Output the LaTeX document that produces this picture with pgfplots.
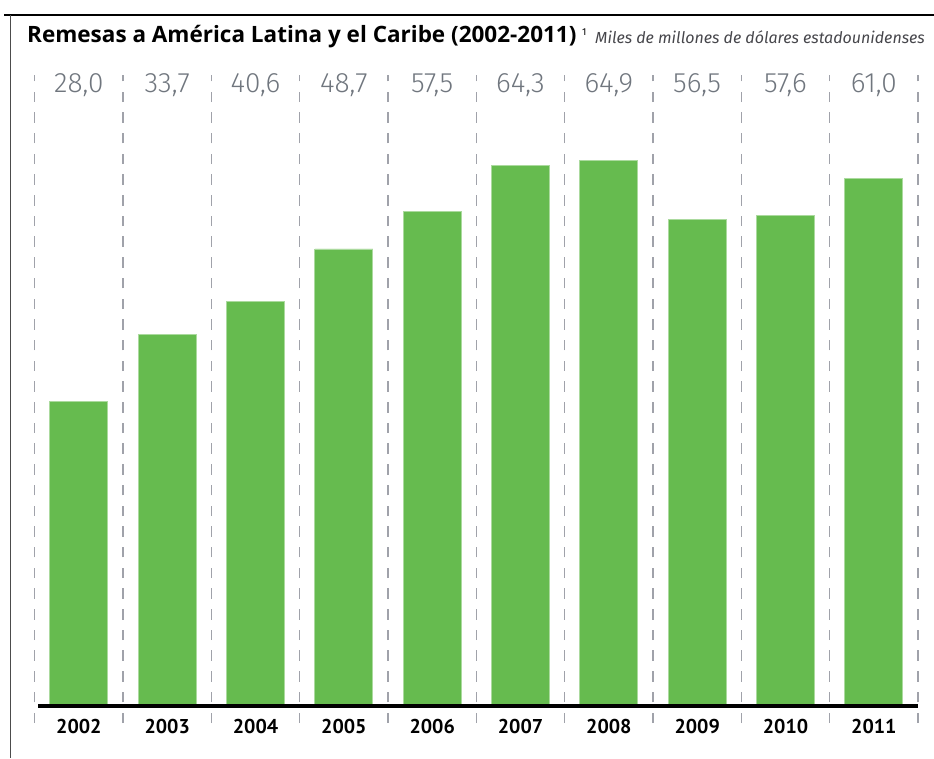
\documentclass[border=0pt]{standalone}
\usepackage{pgfplots}
\usepackage{pgfplotstable}
\pgfplotsset{compat=1.18}
\usepackage{fontspec}
\setmainfont{PT Sans}
\newfontfamily\titlefont{Open Sans}
\newfontfamily\subfont{Fira Sans}
\newfontfamily\lightfont{Fira Sans Light}
\definecolor{barg}{RGB}{102,187,79}
\definecolor{valgray}{RGB}{112,118,126}
\definecolor{dashgray}{RGB}{160,162,170}
\definecolor{subgray}{RGB}{70,70,75}
\pgfplotstableread{
x h lab year
0 36.2 28,0 2002
1 44.2 33,7 2003
2 48.2 40,6 2004
3 54.4 48,7 2005
4 58.9 57,5 2006
5 64.3 64,3 2007
6 64.9 64,9 2008
7 57.9 56,5 2009
8 58.4 57,6 2010
9 62.8 61,0 2011
}\data
\begin{document}
\begin{tikzpicture}
\useasboundingbox (0pt,0pt) rectangle (934pt,-758pt);
\draw[black, line width=2pt] (4pt,-15pt) -- (934pt,-15pt);
\draw[black!70, line width=1.5pt] (10.5pt,-15pt) -- (10.5pt,-758pt);
\node[anchor=base west, inner sep=0pt] at (27pt,-42pt) {\titlefont\fontsize{22.5}{26}\selectfont\bfseries Remesas a América Latina y el Caribe (2002-2011)};
\node[anchor=base west, inner sep=0pt] at (582pt,-35pt) {\subfont\fontsize{10}{12}\selectfont 1};
\node[anchor=base east, inner sep=0pt, text=subgray] at (925pt,-43pt) {\subfont\fontsize{16}{19}\selectfont\itshape Miles de millones de dólares estadounidenses};
\begin{axis}[
  at={(34.7pt,-723pt)}, anchor=south west,
  scale only axis, width=883.3pt, height=648pt,
  xmin=-0.5, xmax=9.5, ymin=-2.023, ymax=75.10,
  axis line style={draw=none},
  xtick={-0.5,0.5,...,9.5}, xticklabels={},
  ytick=\empty,
  tick style={draw=none},
  xmajorgrids=true,
  grid style={dashgray, line width=1.3pt, dash pattern=on 10.5pt off 10.2pt},
  clip=false,
]
\addplot[ybar, bar width=58pt, bar shift=0pt, fill=barg, draw=barg!55!white, line width=0.8pt] table[x=x, y=h] {\data};
\draw[black, line width=3.3pt] (axis cs:-0.46,0) -- (axis cs:9.5,0);
\addplot[draw=none, nodes near coords, point meta=explicit symbolic,
  every node near coord/.style={anchor=base, inner sep=0pt, text=valgray, font=\lightfont\fontsize{28}{32}\selectfont}]
  table[x=x, y expr=73.0, meta=lab] {\data};
\addplot[draw=none, nodes near coords, point meta=explicit symbolic,
  every node near coord/.style={anchor=base, inner sep=0pt, text=black, font=\fontsize{20}{24}\selectfont\bfseries}]
  table[x=x, y expr=-3.33, meta=year] {\data};
\end{axis}
\end{tikzpicture}
\end{document}
